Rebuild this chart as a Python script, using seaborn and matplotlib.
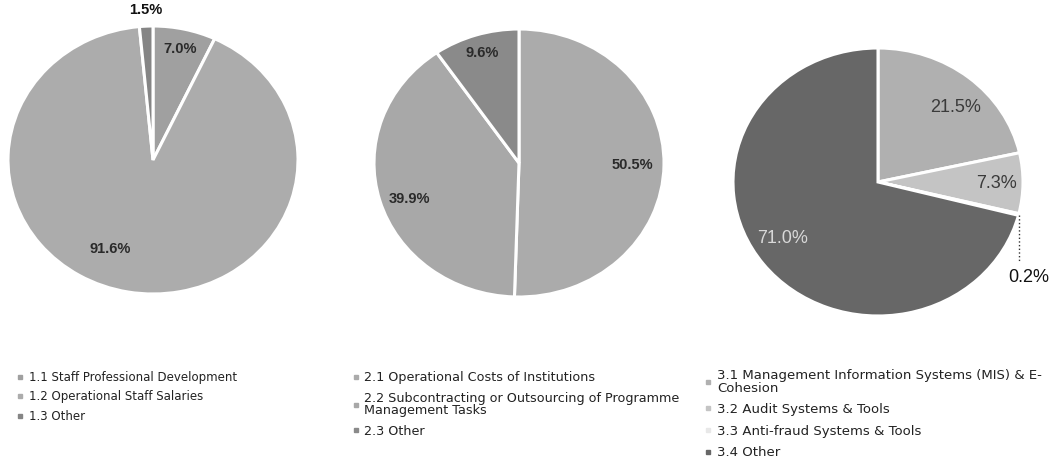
import numpy as np
import matplotlib.pyplot as plt
import seaborn as sns
from matplotlib.lines import Line2D

sns.set_theme(style="white")
plt.rcParams['font.family'] = ['Liberation Sans', 'DejaVu Sans']

# data, clockwise from 12 o'clock
labels_1 = ['1.1 Staff Professional Development', '1.2 Operational Staff Salaries', '1.3 Other']
values_1 = [7.0, 91.6, 1.5]

labels_2 = ['2.1 Operational Costs of Institutions',
            '2.2 Subcontracting or Outsourcing of Programme\nManagement Tasks',
            '2.3 Other']
values_2 = [50.5, 39.9, 9.6]

labels_3 = ['3.1 Management Information Systems (MIS) & E-\nCohesion',
            '3.2 Audit Systems & Tools',
            '3.3 Anti-fraud Systems & Tools',
            '3.4 Other']
values_3 = [21.5, 7.3, 0.2, 71.0]

W, H = 1055, 470
fig = plt.figure(figsize=(W / 100, H / 100), dpi=100)


def px_axes(cx, cy, rx=145, ry=134):
    return fig.add_axes([(cx - rx) / W, (H - cy - ry) / H, 2 * rx / W, 2 * ry / H])


def draw_pie(ax, values, colors, label_r, label_shift, label_colors, weight, size):
    wedges, _ = ax.pie(values, colors=colors, startangle=90, counterclock=False,
                       wedgeprops=dict(edgecolor='white', linewidth=2.2))
    ax.set_aspect('auto')
    ax.set_xlim(-1, 1)
    ax.set_ylim(-1, 1)
    ax.axis('off')
    for w, v, r, s, c in zip(wedges, values, label_r, label_shift, label_colors):
        if r is None:
            continue
        mid = np.deg2rad((w.theta1 + w.theta2) / 2 + s)
        ax.text(r * np.cos(mid), r * np.sin(mid), f'{v:.1f}%', ha='center', va='center',
                color=c, fontsize=size, fontweight=weight, clip_on=False)
    return wedges


def add_legend(labels, colors, x, y, spacing, size):
    handles = [Line2D([], [], marker='s', ls='', ms=2.2, color=c) for c in colors]
    leg = fig.legend(handles, labels, loc='upper left', bbox_to_anchor=(x / W, 1 - y / H),
                     frameon=False, handlelength=0.4, handletextpad=0.5,
                     labelspacing=spacing, borderaxespad=0, borderpad=0,
                     prop=dict(family='DejaVu Sans', size=size), labelcolor='#222222')
    for t in leg.get_texts():
        t.set_linespacing(0.95)


# pie 1
colors_1 = ['#a0a0a0', '#acacac', '#858585']
ax1 = px_axes(153, 160)
draw_pie(ax1, values_1, colors_1, [0.85, 0.73, 1.12], [0, -14, 0],
         ['#2a2a2a', '#2a2a2a', '#111111'], 'bold', 10.5)

# pie 2
colors_2 = ['#ababab', '#a8a8a8', '#8a8a8a']
ax2 = px_axes(519, 163)
draw_pie(ax2, values_2, colors_2, [0.78, 0.8, 0.86], [0, 3, 0], ['#2a2a2a'] * 3, 'bold', 10.5)

# pie 3
colors_3 = ['#b0b0b0', '#c4c4c4', '#e8e8e8', '#676767']
ax3 = px_axes(878, 182)
w3 = draw_pie(ax3, values_3, colors_3, [0.77, 0.82, None, 0.78], [-5, 0, 0, -5],
              ['#3a3a3a', '#3a3a3a', None, '#d8d8d8'], 'normal', 13)
mid = np.deg2rad((w3[2].theta1 + w3[2].theta2) / 2)
ax3.plot([np.cos(mid), np.cos(mid)], [np.sin(mid), -0.6], ls=':', color='#333333', lw=1, clip_on=False)
ax3.text(1.04, -0.71, f'{values_3[2]:.1f}%', ha='center', va='center', fontsize=13,
         color='#111111', clip_on=False)

add_legend(labels_1, colors_1, 18, 371, 0.55, 8.5)
add_legend(labels_2, colors_2, 353, 371, 0.6, 9.2)
add_legend(labels_3, colors_3, 705, 369, 0.65, 9.5)

fig.savefig('out.png', dpi=100, facecolor='white')
